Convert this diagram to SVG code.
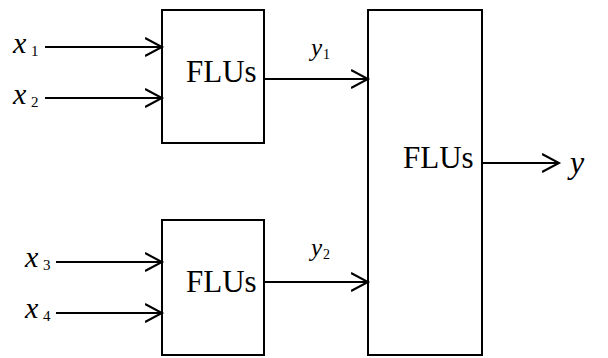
<svg xmlns="http://www.w3.org/2000/svg" width="608" height="358" viewBox="0 0 608 358">
<style>
.box{fill:#fff;stroke:#000;stroke-width:2}
.lbl{font-family:"Liberation Serif","Times New Roman",serif;font-size:31px;fill:#000}
.var{font-family:"Liberation Serif","Times New Roman",serif;font-style:italic;fill:#000}
.sub{font-family:"Liberation Serif","Times New Roman",serif;fill:#000}
.wire{stroke:#000;stroke-width:2;fill:none}
</style>
<defs>
<marker id="ah" markerUnits="userSpaceOnUse" markerWidth="20" markerHeight="22" refX="17" refY="10" orient="auto">
<path d="M0,1 L17,10 L0,19" fill="none" stroke="#000" stroke-width="2"/>
</marker>
</defs>
<rect width="608" height="358" fill="#fff"/>
<g id="node-flu1">
<rect class="box" x="162" y="10" width="102" height="133"/>
<text class="lbl" x="186" y="82">FLUs</text>
</g>
<g id="node-flu2">
<rect class="box" x="162" y="220" width="102" height="135"/>
<text class="lbl" x="186" y="292">FLUs</text>
</g>
<g id="node-flu3">
<rect class="box" x="368" y="10" width="114" height="345"/>
<text class="lbl" x="403" y="168">FLUs</text>
</g>
<g id="labels">
<text class="var" x="13" y="53" font-size="30">x</text><text class="sub" x="31" y="56" font-size="15">1</text>
<text class="var" x="13" y="104" font-size="30">x</text><text class="sub" x="31" y="107" font-size="15">2</text>
<text class="var" x="25" y="267" font-size="30">x</text><text class="sub" x="43" y="270" font-size="15">3</text>
<text class="var" x="25" y="318" font-size="30">x</text><text class="sub" x="43" y="321" font-size="15">4</text>
<text class="var" x="311" y="56" font-size="25">y</text><text class="sub" x="323" y="59" font-size="14">1</text>
<text class="var" x="311" y="256" font-size="25">y</text><text class="sub" x="323" y="259" font-size="14">2</text>
<text class="var" x="570" y="173" font-size="32">y</text>
</g>
<g id="connectors">
<line class="wire" x1="45" y1="47" x2="162" y2="47" marker-end="url(#ah)"/>
<line class="wire" x1="45" y1="98" x2="162" y2="98" marker-end="url(#ah)"/>
<line class="wire" x1="56" y1="262" x2="162" y2="262" marker-end="url(#ah)"/>
<line class="wire" x1="56" y1="313" x2="162" y2="313" marker-end="url(#ah)"/>
<line class="wire" x1="264" y1="79" x2="368" y2="79" marker-end="url(#ah)"/>
<line class="wire" x1="264" y1="282" x2="368" y2="282" marker-end="url(#ah)"/>
<line class="wire" x1="482" y1="163" x2="559" y2="163" marker-end="url(#ah)"/>
</g>
</svg>
